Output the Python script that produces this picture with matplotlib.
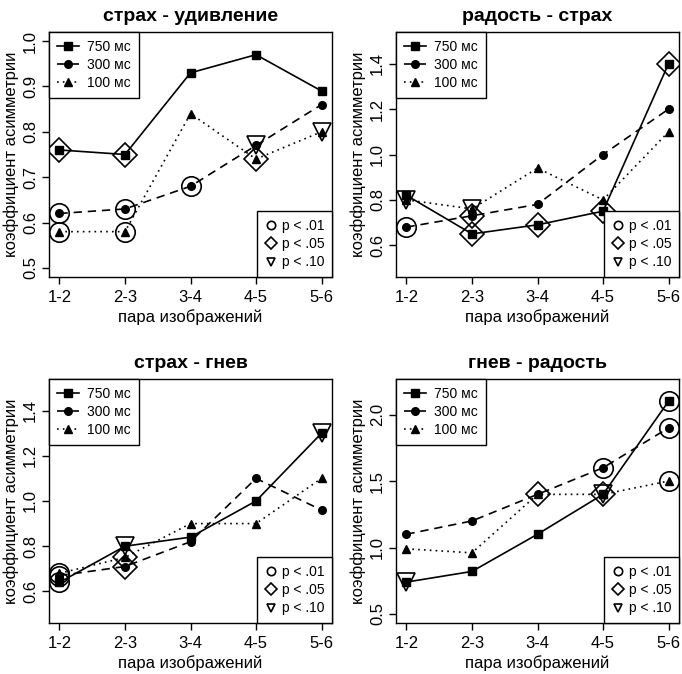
import matplotlib
matplotlib.use('Agg')
from matplotlib import pyplot as plt
from matplotlib.lines import Line2D

plt.rcParams['font.family'] = ['Liberation Sans', 'DejaVu Sans']

pairs = ['1-2', '2-3', '3-4', '4-5', '5-6']
series_names = ['750 мс', '300 мс', '100 мс']
titles = ['страх - удивление', 'радость - страх', 'страх - гнев', 'гнев - радость']

# значения коэффициента асимметрии: 750, 300, 100 мс
fear_surprise_750 = [0.76, 0.75, 0.93, 0.97, 0.89]
fear_surprise_300 = [0.62, 0.63, 0.68, 0.77, 0.86]
fear_surprise_100 = [0.58, 0.58, 0.84, 0.74, 0.80]

joy_fear_750 = [0.82, 0.65, 0.69, 0.75, 1.40]
joy_fear_300 = [0.68, 0.73, 0.78, 1.00, 1.20]
joy_fear_100 = [0.80, 0.76, 0.94, 0.80, 1.10]

fear_anger_750 = [0.64, 0.80, 0.84, 1.00, 1.30]
fear_anger_300 = [0.67, 0.71, 0.82, 1.10, 0.96]
fear_anger_100 = [0.68, 0.75, 0.90, 0.90, 1.10]

anger_joy_750 = [0.74, 0.82, 1.10, 1.40, 2.10]
anger_joy_300 = [1.10, 1.20, 1.40, 1.60, 1.90]
anger_joy_100 = [0.99, 0.96, 1.40, 1.40, 1.50]

# значимость: 'o' p<.01, 'D' p<.05, 'v' p<.10
fear_surprise_sig = [['D', 'D', '', '', ''], ['o', 'o', 'o', 'v', ''], ['o', 'o', '', 'D', 'v']]
joy_fear_sig = [['', 'D', 'D', 'D', 'D'], ['o', 'D', '', '', ''], ['v', 'v', '', '', '']]
fear_anger_sig = [['o', 'v', '', '', 'v'], ['o', 'D', '', '', ''], ['o', 'D', '', '', '']]
anger_joy_sig = [['v', '', '', 'v', 'o'], ['', '', 'D', 'o', 'o'], ['', '', '', 'D', 'o']]

panels = [
    ([fear_surprise_750, fear_surprise_300, fear_surprise_100], fear_surprise_sig, (0.5, 1.0), [0.5, 0.6, 0.7, 0.8, 0.9, 1.0]),
    ([joy_fear_750, joy_fear_300, joy_fear_100], joy_fear_sig, (0.5, 1.5), [0.6, 0.8, 1.0, 1.2, 1.4]),
    ([fear_anger_750, fear_anger_300, fear_anger_100], fear_anger_sig, (0.5, 1.5), [0.6, 0.8, 1.0, 1.2, 1.4]),
    ([anger_joy_750, anger_joy_300, anger_joy_100], anger_joy_sig, (0.5, 2.2), [0.5, 1.0, 1.5, 2.0]),
]

styles = ['-', (0, (5, 3.5)), (0, (1, 2.5))]
marks = ['s', 'o', '^']
msizes = [5.5, 5.5, 6]
sig_sizes = {'o': 14, 'D': 12, 'v': 13}

W, H = 682, 674
boxes = [(49, 332, 32, 277), (396, 679, 32, 277), (49, 332, 379, 623), (396, 679, 379, 623)]

fig = plt.figure(figsize=(W / 100, H / 100), dpi=100)

for k, (vals, sig, ylim, yticks) in enumerate(panels):
    l, r, t, b = boxes[k]
    ax = fig.add_axes([l / W, 1 - b / H, (r - l) / W, (b - t) / H])
    x = range(len(pairs))
    for i in range(3):
        ax.plot(x, vals[i], color='black', linestyle=styles[i], linewidth=1.2,
                marker=marks[i], markersize=msizes[i], label=series_names[i], zorder=3)
        for j in x:
            if sig[i][j]:
                ax.plot(j, vals[i][j], marker=sig[i][j], markersize=sig_sizes[sig[i][j]],
                        markerfacecolor='none', markeredgecolor='black', markeredgewidth=1.2,
                        linestyle='none', zorder=4)
    span = ylim[1] - ylim[0]
    ax.set_ylim(ylim[0] - 0.04 * span, ylim[1] + 0.04 * span)
    ax.set_xlim(-0.16, 4.16)
    ax.set_xticks(list(x))
    ax.set_xticklabels(pairs, fontsize=12)
    ax.set_yticks(yticks)
    ax.set_yticklabels(['{:.1f}'.format(v) for v in yticks], fontsize=12, rotation=90, va='center')
    ax.tick_params(length=5, width=1, pad=3)
    ax.tick_params(axis='x', pad=4)
    for s in ax.spines.values():
        s.set_linewidth(1)
    ax.set_title(titles[k], fontsize=14, fontweight='bold', pad=8)
    ax.set_xlabel('пара изображений', fontsize=12, labelpad=3)
    ax.set_ylabel('коэффициент асимметрии', fontsize=12, labelpad=3)

    leg1 = ax.legend(loc='upper left', bbox_to_anchor=(0, 1), borderaxespad=0, fontsize=10,
                     fancybox=False, edgecolor='black', framealpha=1, handlelength=1.6,
                     handletextpad=0.6, labelspacing=0.3, borderpad=0.55)
    leg1.get_frame().set_linewidth(1)
    ax.add_artist(leg1)
    sig_handles = [Line2D([], [], marker=m, markersize=6, markerfacecolor='none', markeredgecolor='black',
                          markeredgewidth=1.2, linestyle='none') for m in ['o', 'D', 'v']]
    leg2 = ax.legend(sig_handles, ['p < .01', 'p < .05', 'p < .10'], loc='lower right',
                     bbox_to_anchor=(1, 0), borderaxespad=0, fontsize=10, fancybox=False,
                     edgecolor='black', framealpha=1, handlelength=0.8, handletextpad=0.4,
                     labelspacing=0.3, borderpad=0.55)
    leg2.get_frame().set_linewidth(1)

fig.savefig('out.png', dpi=100)
